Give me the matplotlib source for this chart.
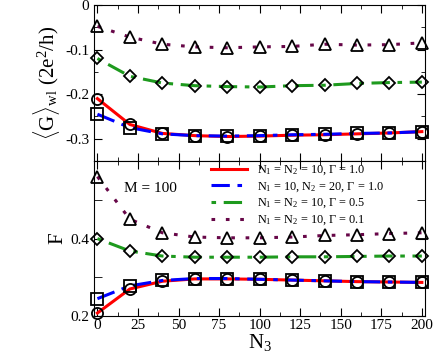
import matplotlib.pyplot as plt
from matplotlib.ticker import MultipleLocator, FixedLocator

plt.switch_backend('agg')
plt.rcParams['font.family'] = ['Liberation Serif', 'DejaVu Serif']
plt.rcParams['mathtext.fontset'] = 'custom'
plt.rcParams['mathtext.rm'] = 'Liberation Serif'
plt.rcParams['mathtext.it'] = 'Liberation Serif'

# Data
n3 = [0, 20, 40, 60, 80, 100, 120, 140, 160, 180, 200]

g_red = [-0.210, -0.268, -0.288, -0.293, -0.295, -0.294, -0.292, -0.291, -0.289, -0.287, -0.284]
g_blue = [-0.245, -0.275, -0.289, -0.293, -0.294, -0.293, -0.291, -0.290, -0.288, -0.287, -0.284]
g_green = [-0.120, -0.160, -0.175, -0.181, -0.183, -0.184, -0.181, -0.180, -0.176, -0.174, -0.173]
g_purple = [-0.048, -0.072, -0.088, -0.094, -0.096, -0.094, -0.093, -0.088, -0.090, -0.089, -0.085]

f_red = [0.208, 0.270, 0.290, 0.296, 0.296, 0.295, 0.293, 0.291, 0.289, 0.288, 0.287]
f_blue = [0.245, 0.278, 0.292, 0.297, 0.297, 0.295, 0.293, 0.291, 0.289, 0.288, 0.287]
f_green = [0.400, 0.368, 0.355, 0.352, 0.352, 0.352, 0.353, 0.353, 0.354, 0.355, 0.355]
f_purple = [0.560, 0.450, 0.415, 0.404, 0.402, 0.402, 0.404, 0.408, 0.410, 0.413, 0.415]

labels = [r'N$_1$ = N$_2$ = 10, $\Gamma$ = 1.0',
          r'N$_1$ = 10, N$_2$ = 20, $\Gamma$ = 1.0',
          r'N$_1$ = N$_2$ = 10, $\Gamma$ = 0.5',
          r'N$_1$ = N$_2$ = 10, $\Gamma$ = 0.1']

styles = [
    ('#ff0000', '-', 'o'),
    ('#0000ff', (0, (6, 2.5, 1.5, 2.5)), 's'),
    ('#1e9a1e', (0, (1.5, 2.5, 6, 2.5)), 'D'),
    ('#670748', (0, (1.2, 3.5)), '^'),
]

fig = plt.figure(figsize=(4.36, 3.54), dpi=100)
ax1 = fig.add_axes([0.216, 0.545, 0.759, 0.441])
ax2 = fig.add_axes([0.216, 0.107, 0.759, 0.438])

for ax, series in ((ax1, [g_red, g_blue, g_green, g_purple]),
                   (ax2, [f_red, f_blue, f_green, f_purple])):
    for (color, ls, mk), y, lab in zip(styles, series, labels):
        ax.plot(n3, y, color=color, linestyle=ls, linewidth=2.2, label=lab, zorder=2)
        ax.plot(n3, y, linestyle='none', marker=mk, markersize=8 if mk != 'D' else 6.5,
                markerfacecolor='none', markeredgecolor='black', markeredgewidth=1.3,
                zorder=3, clip_on=False)
    ax.set_xlim(-2, 202)
    ax.xaxis.set_major_locator(MultipleLocator(25))
    ax.xaxis.set_minor_locator(MultipleLocator(12.5))
    ax.tick_params(which='both', direction='in', top=True, right=True, labelsize=11)
    ax.tick_params(which='major', length=6)
    ax.tick_params(which='minor', length=3)

ax1.set_ylim(-0.35, 0)
ax1.yaxis.set_major_locator(FixedLocator([0, -0.1, -0.2, -0.3]))
ax1.yaxis.set_minor_locator(FixedLocator([-0.05, -0.15, -0.25]))
ax1.set_yticklabels(['0', '-0.1', '-0.2', '-0.3'])
ax1.tick_params(labelbottom=False)
ax1.set_ylabel(r'$\langle$G$\rangle_{\rm wl}$ (2e$^2$/h)', fontsize=15, labelpad=2)

ax2.set_ylim(0.2, 0.6)
ax2.yaxis.set_major_locator(FixedLocator([0.2, 0.4]))
ax2.yaxis.set_minor_locator(FixedLocator([0.3, 0.5]))
ax2.tick_params(which='minor', axis='y', length=6)
ax2.tick_params(axis='x', pad=2)
ax2.set_ylabel('F', fontsize=15, labelpad=2)
ax2.set_xlabel(r'N$_3$', fontsize=15, labelpad=0)
ax2.text(0.09, 0.80, 'M = 100', transform=ax2.transAxes, fontsize=11)

leg = ax2.legend(loc='upper left', bbox_to_anchor=(0.33, 1.03), fontsize=8.8, frameon=False,
                 handlelength=3.0, labelspacing=0.25, borderaxespad=0.2)

fig.savefig('out.png', dpi=100)
